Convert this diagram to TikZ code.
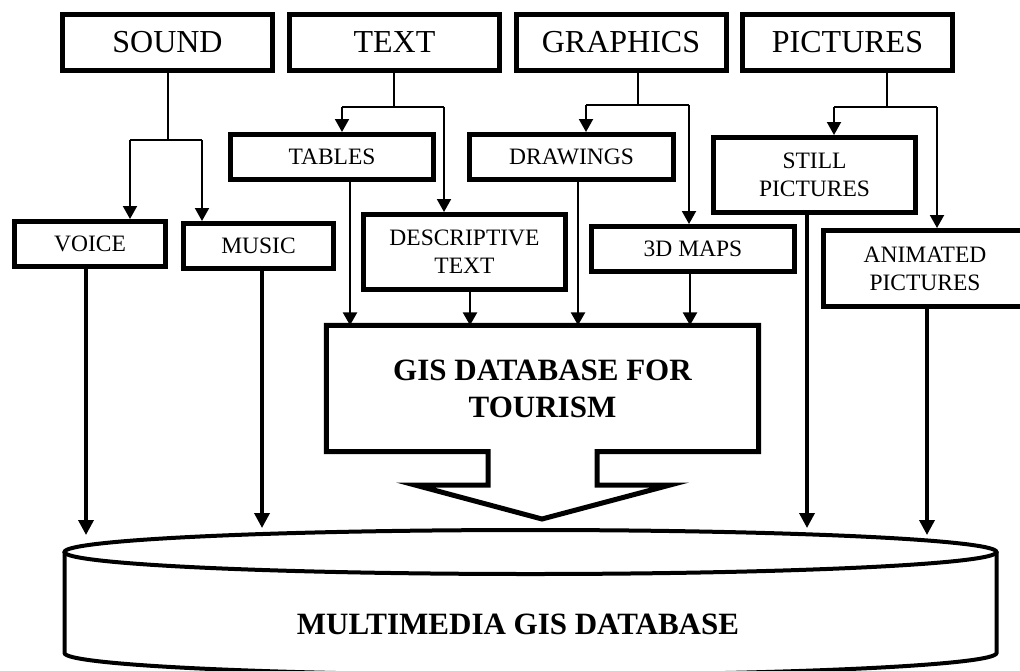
\documentclass[tikz,border=0pt]{standalone}
\usepackage{fontspec}
\setmainfont{Liberation Serif}
\usetikzlibrary{arrows.meta}

\begin{document}
\begin{tikzpicture}[x=1pt, y=-1pt,
  box/.style={draw, line width=5pt, inner sep=0pt, align=center},
  topbox/.style={box, minimum width=210pt, minimum height=56pt, font=\fontsize{32}{38}\selectfont},
  subbox/.style={box, font=\fontsize{23.5}{28}\selectfont},
  branch/.style={line width=2pt},
  feed/.style={line width=2.5pt, -{Triangle[width=14pt, length=13pt]}},
  drop/.style={line width=3.5pt, -{Triangle[width=15pt, length=15pt]}},
  outline/.style={line width=5pt, line join=miter},
  db/.style={line width=4pt}]
  \useasboundingbox (0,0) rectangle (1020,670);
  \clip (0,0) rectangle (1020,670);

  \foreach \n/\x/\t in {snd/167.5/SOUND, txt/394.5/TEXT, grf/621/GRAPHICS, pic/847.5/PICTURES} {
    \node[topbox] (\n) at (\x,42.5) {\t};
  }
  \node[subbox, minimum width=151pt, minimum height=45pt] (voice) at (90,244) {VOICE};
  \node[subbox, minimum width=150pt, minimum height=45pt] (music) at (258.5,246) {MUSIC};
  \node[subbox, minimum width=203pt, minimum height=45pt] (tables) at (332,157) {TABLES};
  \node[subbox, minimum width=202pt, minimum height=75pt] (desc) at (464.5,252) {DESCRIPTIVE\\TEXT};
  \node[subbox, minimum width=204pt, minimum height=45pt] (drawings) at (571.5,157) {DRAWINGS};
  \node[subbox, minimum width=203pt, minimum height=45pt] (maps) at (693,249) {3D MAPS};
  \node[subbox, minimum width=202pt, minimum height=75pt] (still) at (814.5,175) {STILL\\PICTURES};
  \node[subbox, minimum width=203pt, minimum height=76pt] (anim) at (925,268.5) {ANIMATED\\PICTURES};

  \foreach \n/\x/\y/\l/\r/\a/\b in {snd/168/140/130/202/voice/music, txt/394/107/342/444/tables/desc,
      grf/638/105/586/689/drawings/maps, pic/887/107/834/937/still/anim} {
    \draw[branch] (\n.south -| \x,0) -- (\x,\y);
    \draw[branch] (\l,\y) -- (\r,\y);
    \draw[branch, -{Triangle[width=14pt, length=13pt]}] (\l,\y) -- (\l,0 |- \a.north);
    \draw[branch, -{Triangle[width=14pt, length=13pt]}] (\r,\y) -- (\r,0 |- \b.north);
  }

  \node[minimum width=432pt, minimum height=126pt, inner sep=0pt, align=center,
    font=\fontsize{31}{37}\selectfont\bfseries] (gis) at (542.5,388.5) {GIS DATABASE FOR\\TOURISM};
  \draw[outline] (gis.north west) -- (gis.north east) -- (gis.south east) -- (597,451.5) -- (597,485)
    -- (670,485) -- (542,519) -- (415,485) -- (488,485) -- (488,451.5) -- (gis.south west) -- cycle;
  \foreach \a/\x in {tables/350, desc/470, drawings/578, maps/690} {
    \draw[feed] (\a.south -| \x,0) -- (\x,0 |- gis.north);
  }

  \draw[db] (530.5,552) ellipse [x radius=466, y radius=22];
  \draw[db] (64.5,552) -- (64.5,653) arc[start angle=180, end angle=0, x radius=466, y radius=22] -- (996.5,552);
  \node[font=\fontsize{31}{37}\selectfont\bfseries] (mmdb) at (518,624) {MULTIMEDIA GIS DATABASE};

  \foreach \a/\x/\y in {voice/86/535, music/262/528, still/807/528, anim/927/535} {
    \coordinate (db-\a) at (\x,\y);
    \draw[drop] (\a.south -| db-\a) -- (db-\a);
  }
\end{tikzpicture}
\end{document}
